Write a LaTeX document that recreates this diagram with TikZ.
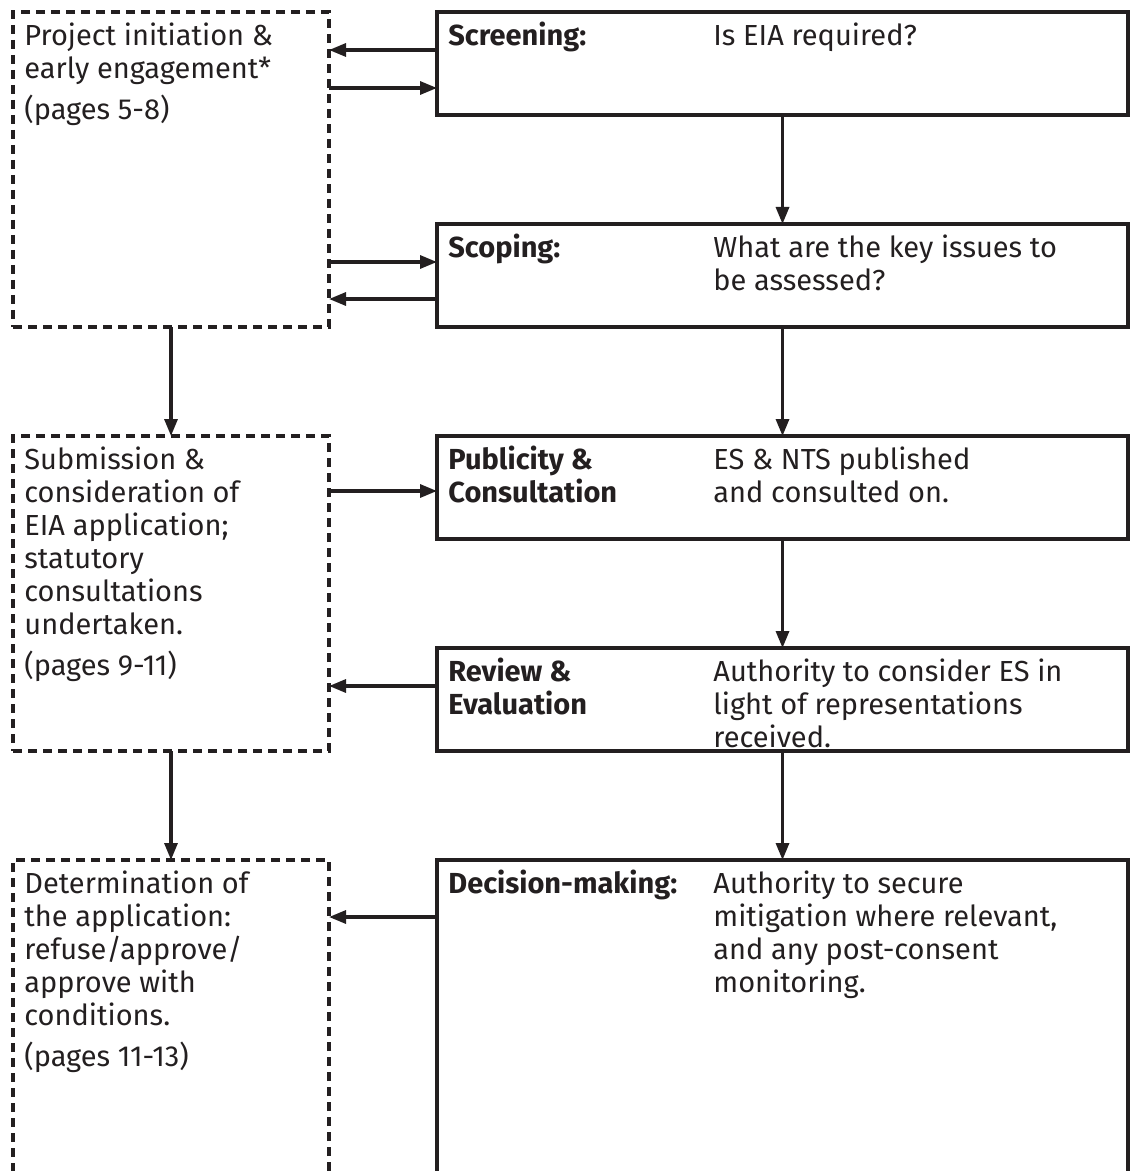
\documentclass[tikz,border=0pt]{standalone}
\usepackage{fontspec}
\setmainfont{Fira Sans}
\usepackage{xcolor}
\usetikzlibrary{arrows.meta, positioning, calc}
\definecolor{ink}{HTML}{231F20}

\begin{document}
\begin{tikzpicture}[
	  font=\fontsize{14.5}{16.5}\selectfont,
	  text=ink,
	  node distance=54.5pt,
	  stagebox/.style={
	    draw=ink,
	    line width=1.6pt,
	    minimum width=345.5pt,
	    minimum height=51.5pt,
	    outer sep=0pt
	  },
	  sidebox/.style={
	    draw=ink,
	    line width=1.6pt,
	    dash pattern=on 4.5pt off 3pt,
	    minimum width=158pt,
	    minimum height=157.5pt,
	    outer sep=0pt
	  },
	  head/.style={anchor=north west, inner sep=0pt, align=left, xshift=5.5pt, yshift=-5pt, font=\fontsize{14.5}{16.5}\selectfont\bfseries},
	  desc/.style={anchor=north west, inner sep=0pt, align=left, xshift=138pt, yshift=-5pt},
	  sidetext/.style={anchor=north west, inner sep=0pt, align=left, xshift=5.5pt, yshift=-5pt},
	  arrow/.style={-{Triangle[length=8.5pt,width=6.5pt]}, line width=1.6pt, draw=ink}
	]
	
	\useasboundingbox (0,0) rectangle (565.5pt,-585.5pt);
	
	% main stages
	\node[stagebox, anchor=north west] (screen) at (218.5pt,-6pt) {};
	\node[stagebox, below=of screen] (scope) {};
	\node[stagebox, below=of scope] (publish) {};
	\node[stagebox, below=of publish] (review) {};
	\node[stagebox, below=of review, minimum height=200pt] (decide) {};
	
	% side boxes
	\node[sidebox, left=54pt of screen.north west, anchor=north east] (init) {};
	\node[sidebox, below=of init] (submit) {};
	\node[sidebox, below=of submit, minimum height=200pt] (determine) {};
	
	% texts
	\node[head] (screenhead) at (screen.north west) {Screening:};
	\node[desc] (screentext) at (screen.north west) {Is EIA required?};
	\node[head] (scopehead) at (scope.north west) {Scoping:};
	\node[desc] (scopetext) at (scope.north west) {What are the key issues to\\be assessed?};
	\node[head] (publishhead) at (publish.north west) {Publicity \&\\Consultation};
	\node[desc] (publishtext) at (publish.north west) {ES \& NTS published\\and consulted on.};
	\node[head] (reviewhead) at (review.north west) {Review \&\\Evaluation};
	\node[desc] (reviewtext) at (review.north west) {Authority to consider ES in\\light of representations\\received.};
	\node[head] (decidehead) at (decide.north west) {Decision-making:};
	\node[desc] (decidetext) at (decide.north west) {Authority to secure\\mitigation where relevant,\\and any post-consent\\monitoring.};
	
	\node[sidetext] (inittext) at (init.north west) {Project initiation \&\\early engagement*\\[4pt](pages 5-8)};
	\node[sidetext] (submittext) at (submit.north west) {Submission \&\\consideration of\\EIA application;\\statutory\\consultations\\undertaken.\\[4pt](pages 9-11)};
	\node[sidetext] (determinetext) at (determine.north west) {Determination of\\the application:\\refuse/approve/\\approve with\\conditions.\\[4pt](pages 11-13)};
	
	% arrow ends on the stage boxes
	\coordinate (s1) at ([yshift=-19pt]screen.north west);
	\coordinate (s2) at ([yshift=-38pt]screen.north west);
	\coordinate (c1) at ([yshift=-19pt]scope.north west);
	\coordinate (c2) at ([yshift=-37.5pt]scope.north west);
	\coordinate (p1) at ([yshift=-27.5pt]publish.north west);
	\coordinate (r1) at ([yshift=-19pt]review.north west);
	\coordinate (d1) at ([yshift=-28.5pt]decide.north west);
	
	\draw[arrow] (s1) -- (s1 -| init.east);
	\draw[arrow] (s2 -| init.east) -- (s2);
	\draw[arrow] (c1 -| init.east) -- (c1);
	\draw[arrow] (c2) -- (c2 -| init.east);
	\draw[arrow] (p1 -| submit.east) -- (p1);
	\draw[arrow] (r1) -- (r1 -| submit.east);
	\draw[arrow] (d1) -- (d1 -| determine.east);
	
	\draw[arrow] (screen) -- (scope);
	\draw[arrow] (scope) -- (publish);
	\draw[arrow] (publish) -- (review);
	\draw[arrow] (review) -- (decide);
	\draw[arrow] (init) -- (submit);
	\draw[arrow] (submit) -- (determine);
	
\end{tikzpicture}
\end{document}
